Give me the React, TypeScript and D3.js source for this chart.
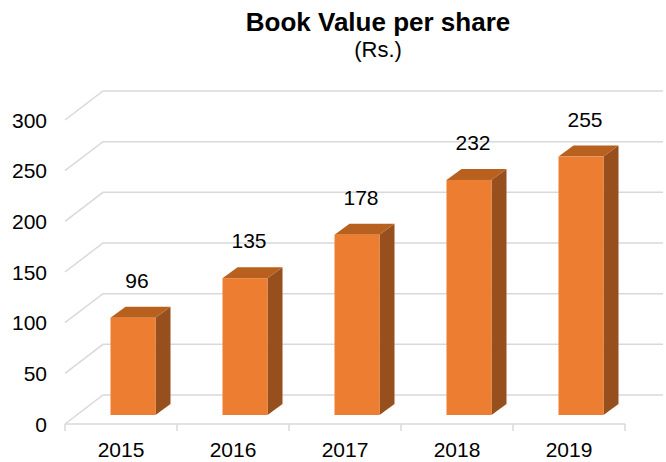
import React from "react";
import * as d3 from "d3";

const categories = ["2015", "2016", "2017", "2018", "2019"];
const values = [96, 135, 178, 232, 255];
const yTicks = [0, 50, 100, 150, 200, 250, 300];

const W = 666;
const H = 462;
const FONT = "'Liberation Sans', Arial, sans-serif";

export default function App() {
  const x = d3.scaleBand<string>().domain(categories).range([65, 625]).paddingInner(0).paddingOuter(0);
  const y = d3.scaleLinear().domain([0, 300]).range([424, 120]);
  const depthX = 38;
  const depthY = -29;
  const barFrontX = 12;
  const barFrontY = -9;
  const barDX = 15;
  const barDY = -11;
  const barW = 45;
  const band = x.bandwidth();

  const grid = yTicks.map((t) => {
    const yy = y(t);
    return `M65,${yy} L${65 + depthX},${yy + depthY} L${625 + depthX},${yy + depthY}`;
  });

  const tickXs = [65, ...categories.map((c) => (x(c) as number) + band)];

  return (
    <svg
      width={W}
      height={H}
      style={{ position: "absolute", left: 0, top: 0, background: "#fff" }}
    >
      <rect x={0} y={0} width={W} height={H} fill="#fff" />
      <text x={378} y={31} textAnchor="middle" fontFamily={FONT} fontWeight="bold" fontSize={26} fill="#000">
        Book Value per share
      </text>
      <text x={378} y={57} textAnchor="middle" fontFamily={FONT} fontSize={22} fill="#000">
        (Rs.)
      </text>
      {grid.map((d, i) => (
        <path key={i} d={d} fill="none" stroke="#d9d9d9" strokeWidth={1.5} />
      ))}
      <path d={`M65,${y(0)} L625,${y(0)}`} stroke="#d9d9d9" strokeWidth={1.5} />
      {tickXs.map((tx, i) => (
        <path key={i} d={`M${tx},${y(0)} L${tx},${y(0) + 7}`} stroke="#d9d9d9" strokeWidth={1.5} />
      ))}
      {yTicks.map((t) => (
        <text key={t} x={47} y={y(t) + 7.5} textAnchor="end" fontFamily={FONT} fontSize={21} fill="#000">
          {t}
        </text>
      ))}
      {categories.map((c) => (
        <text
          key={c}
          x={(x(c) as number) + band / 2}
          y={457}
          textAnchor="middle"
          fontFamily={FONT}
          fontSize={21}
          fill="#000"
        >
          {c}
        </text>
      ))}
      {categories.map((c, i) => {
        const cx = (x(c) as number) + band / 2;
        const x0 = cx - barW / 2 + barFrontX;
        const x1 = x0 + barW;
        const yb = y(0) + barFrontY;
        const yt = y(values[i]) + barFrontY;
        const side = `M${x1},${yb} L${x1 + barDX},${yb + barDY} L${x1 + barDX},${yt + barDY} L${x1},${yt} Z`;
        const top = `M${x0},${yt} L${x0 + barDX},${yt + barDY} L${x1 + barDX},${yt + barDY} L${x1},${yt} Z`;
        return (
          <g key={c}>
            <path d={side} fill="#964F1D" />
            <path d={top} fill="#B8611F" />
            <rect x={x0} y={yt} width={barW} height={yb - yt} fill="#ED7D31" />
            <text
              x={cx + barFrontX + 4}
              y={yt + barDY - 19}
              textAnchor="middle"
              fontFamily={FONT}
              fontSize={21}
              fill="#000"
            >
              {values[i]}
            </text>
          </g>
        );
      })}
    </svg>
  );
}
